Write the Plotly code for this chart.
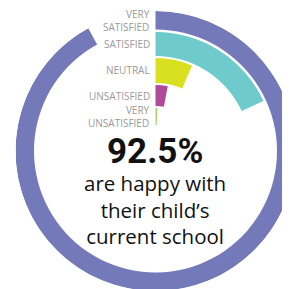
import plotly.graph_objects as go

# ---- data ----
categories = ["VERY SATISFIED", "SATISFIED", "NEUTRAL", "UNSATISFIED", "VERY UNSATISFIED"]
label_texts = ["VERY<br>SATISFIED", "SATISFIED", "NEUTRAL", "UNSATISFIED", "VERY<br>UNSATISFIED"]
values = [77.3, 15.2, 5.4, 2.5, 0.6]          # percent of respondents
scale_max = 84.0                              # value that maps to a full turn
headline = "92.5%"
subtitle_lines = ["are happy with", "their child\u2019s", "current school"]

# ---- styling / layout ----
colors = ["#7479b9", "#6fcacb", "#d8e020", "#b04a9c", "#a6d46b"]
ring_inner = [121.5, 95, 68, 45, 26]
ring_outer = [140, 119, 93, 66, 43]

W, H = 290, 289
cx, cy = 147.5, 143.0   # centre of the rings in figure pixels
R = 140                 # polar radius in px (1 radial unit = 1 px)

deg = [v * 360.0 / scale_max for v in values]
theta = [d / 2 for d in deg]
r = [o - i for o, i in zip(ring_outer, ring_inner)]

fig = go.Figure()
fig.add_trace(go.Barpolar(
    r=r, base=ring_inner, theta=theta, width=deg,
    marker=dict(color=colors, line=dict(width=0)),
    text=categories, hoverinfo="text", showlegend=False,
))

fig.update_layout(
    width=W, height=H, margin=dict(l=0, r=0, t=0, b=0),
    paper_bgcolor="white", plot_bgcolor="white",
    polar=dict(
        domain=dict(x=[(cx - R) / W, (cx + R) / W],
                    y=[(H - cy - R) / H, (H - cy + R) / H]),
        bgcolor="rgba(0,0,0,0)",
        bargap=0,
        radialaxis=dict(range=[0, R], visible=False, showgrid=False),
        angularaxis=dict(rotation=90, direction="clockwise", visible=False,
                         showgrid=False, thetaunit="degrees"),
    ),
)

# category labels, right-aligned next to the start of each ring
label_font = dict(family="Open Sans", size=10, color="#9a9a9a")
for t, i0, o0 in zip(label_texts, ring_inner, ring_outer):
    ypx = cy - (i0 + o0) / 2
    fig.add_annotation(text=t, x=(cx - 4) / W, y=(H - ypx) / H,
                       xref="paper", yref="paper", xanchor="right", align="right",
                       yanchor="middle", showarrow=False, font=label_font)

fig.add_annotation(text="<b>" + headline + "</b>", x=(cx - 0.5) / W, y=(H - 143) / H,
                   xref="paper", yref="paper", xanchor="center", yanchor="middle",
                   showarrow=False, borderpad=0,
                   font=dict(family="Roboto", size=35, color="#111111"))
fig.add_annotation(text="<br>".join(subtitle_lines), x=(cx - 0.5) / W, y=(H - 201.5) / H,
                   xref="paper", yref="paper", xanchor="center", yanchor="middle",
                   align="center", showarrow=False, borderpad=0,
                   font=dict(family="Open Sans", size=20.5, color="#111111"))

fig.write_html("out.html")
